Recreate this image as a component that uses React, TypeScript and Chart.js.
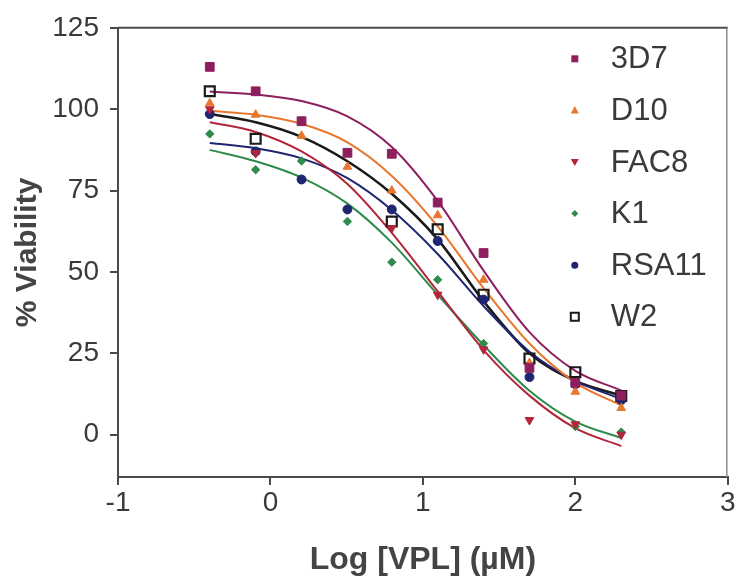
import React, { useEffect, useRef } from 'react';
import { Chart, registerables } from 'chart.js';

Chart.register(...registerables);

// log10 of concentration (µM)
const logConc = [-0.398, -0.097, 0.204, 0.505, 0.796, 1.097, 1.398, 1.699, 2.0, 2.301];

const strains = ['3D7', 'D10', 'FAC8', 'K1', 'RSA11', 'W2'];

// measured % viability
const v3D7 = [113, 105.5, 96.3, 86.6, 86.3, 71.3, 55.8, 20.5, 15.9, 12];
const vD10 = [101.8, 98.3, 91.8, 82.3, 75, 67.4, 47.6, 22, 13.2, 8.2];
const vFAC8 = [100, 86.5, null, null, 63.5, 43, 26.2, 4.5, 3.2, 0];
const vK1 = [92.4, 81.4, 84.1, 65.5, 53, 47.6, 28, null, 2.5, 0.8];
const vRSA11 = [98.5, 87, 78.4, 69.2, 69.2, 59.5, 41.5, 17.7, 15.5, 10.6];
const vW2 = [105.5, 90.9, null, null, 65.5, 63.1, 43, 23.4, 19.2, 11.9];

// fitted dose-response curves, read at the same concentrations
const fit3D7 = [105.4, 104.5, 102.5, 97.8, 88.4, 71.8, 50.4, 31.5, 19.6, 13.6];
const fitD10 = [99.5, 98.3, 95.5, 89.8, 79.5, 64, 45, 28, 16, 9];
const fitFAC8 = [96, 93, 87, 77, 62, 44, 26, 12, 2, -3.5];
const fitK1 = [87.5, 84, 79, 71, 59, 43, 27.5, 13.5, 4, -1];
const fitRSA11 = [89.6, 88, 84.9, 78.8, 69, 55.5, 39.5, 25.5, 16.5, 11];
const fitW2 = [98.5, 96, 91.5, 84, 74, 60, 41, 25, 16.5, 12];

const xTicks = [-1, 0, 1, 2, 3];
const yTicks = [0, 25, 50, 75, 100, 125];

const values = [v3D7, vD10, vFAC8, vK1, vRSA11, vW2];
const fits = [fit3D7, fitD10, fitFAC8, fitK1, fitRSA11, fitW2];

const colors = ['#8E1F5F', '#E8772E', '#B3263A', '#2F8A4C', '#1F2570', '#1a1a1a'];
const markers = ['square', 'triangle', 'triangleDown', 'diamond', 'circle', 'openSquare'];

const FONT = '"Liberation Sans", Arial, Helvetica, sans-serif';
const AXIS = '#4a4a4a';
const TEXT = '#3a3a3a';

function markerOpts(m: string) {
  switch (m) {
    case 'square': return { pointStyle: 'rect', radius: 6.2, rotation: 0, fill: true, bw: 1 };
    case 'triangle': return { pointStyle: 'triangle', radius: 5, rotation: 0, fill: true, bw: 1 };
    case 'triangleDown': return { pointStyle: 'triangle', radius: 5, rotation: 180, fill: true, bw: 1 };
    case 'diamond': return { pointStyle: 'rectRot', radius: 4.2, rotation: 0, fill: true, bw: 1 };
    case 'circle': return { pointStyle: 'circle', radius: 4.5, rotation: 0, fill: true, bw: 1 };
    default: return { pointStyle: 'rect', radius: 7, rotation: 0, fill: false, bw: 2.2 };
  }
}

function drawMarker(ctx: CanvasRenderingContext2D, m: string, x: number, y: number, color: string) {
  ctx.save();
  ctx.fillStyle = color;
  ctx.strokeStyle = color;
  ctx.beginPath();
  switch (m) {
    case 'square': ctx.rect(x - 3.5, y - 3.5, 7, 7); ctx.fill(); break;
    case 'triangle': ctx.moveTo(x, y - 4.5); ctx.lineTo(x + 4, y + 3); ctx.lineTo(x - 4, y + 3); ctx.closePath(); ctx.fill(); break;
    case 'triangleDown': ctx.moveTo(x, y + 4); ctx.lineTo(x + 4, y - 3); ctx.lineTo(x - 4, y - 3); ctx.closePath(); ctx.fill(); break;
    case 'diamond': ctx.moveTo(x, y - 3.5); ctx.lineTo(x + 3.5, y); ctx.lineTo(x, y + 3.5); ctx.lineTo(x - 3.5, y); ctx.closePath(); ctx.fill(); break;
    case 'circle': ctx.arc(x, y, 3.5, 0, Math.PI * 2); ctx.fill(); break;
    default: ctx.lineWidth = 2; ctx.rect(x - 4, y - 4, 8, 8); ctx.stroke(); break;
  }
  ctx.restore();
}

const frameAndLegend = {
  id: 'frameAndLegend',
  afterDraw(chart: any) {
    const { ctx, chartArea } = chart;
    // top and right frame lines
    ctx.save();
    ctx.strokeStyle = AXIS;
    ctx.lineWidth = 2;
    ctx.beginPath();
    ctx.moveTo(chartArea.left, chartArea.top);
    ctx.lineTo(chartArea.right, chartArea.top);
    ctx.stroke();
    ctx.strokeStyle = '#8a8a8a';
    ctx.lineWidth = 1.5;
    ctx.beginPath();
    ctx.moveTo(chartArea.right - 1, chartArea.top);
    ctx.lineTo(chartArea.right - 1, chartArea.bottom);
    ctx.stroke();
    ctx.restore();
    // legend inside plot
    const mx = chartArea.right - 153;
    const tx = mx + 36;
    const y0 = chartArea.top + 31;
    const step = 51.6;
    ctx.save();
    ctx.font = `31px ${FONT}`;
    ctx.textBaseline = 'middle';
    ctx.textAlign = 'left';
    strains.forEach((s, i) => {
      const y = y0 + i * step;
      drawMarker(ctx, markers[i], mx, y, colors[i]);
      ctx.fillStyle = TEXT;
      ctx.fillText(s, tx, y + 1);
    });
    ctx.restore();
  },
};

export default function App() {
  const ref = useRef<HTMLCanvasElement | null>(null);

  useEffect(() => {
    document.body.style.margin = '0';
    const canvas = ref.current;
    if (!canvas) return;

    const pointSets = strains.map((s, i) => {
      const mo = markerOpts(markers[i]);
      return {
        label: s,
        data: logConc.map((x, j) => ({ x, y: values[i][j] })),
        showLine: false,
        pointStyle: mo.pointStyle,
        pointRadius: mo.radius,
        pointRotation: mo.rotation,
        pointBackgroundColor: mo.fill ? colors[i] : 'rgba(0,0,0,0)',
        pointBorderColor: colors[i],
        pointBorderWidth: mo.bw,
        backgroundColor: colors[i],
        borderColor: colors[i],
      };
    });
    const lineSets = strains.map((s, i) => ({
      label: s + ' fit',
      data: logConc.map((x, j) => ({ x, y: fits[i][j] })),
      showLine: true,
      pointRadius: 0,
      borderColor: colors[i],
      borderWidth: i === 5 ? 2.6 : 2,
      cubicInterpolationMode: 'monotone',
      fill: false,
    }));

    const chart = new Chart(canvas, {
      type: 'scatter',
      data: { datasets: [...pointSets, ...lineSets] as any },
      options: {
        animation: false,
        responsive: false,
        devicePixelRatio: 1,
        layout: { padding: { left: 0, right: 0, top: 24, bottom: 0 } },
        plugins: { legend: { display: false }, tooltip: { enabled: false } },
        scales: {
          x: {
            type: 'linear',
            min: -1,
            max: 3,
            afterBuildTicks: (scale: any) => { scale.ticks = xTicks.map((v) => ({ value: v })); },
            afterFit: (scale: any) => { scale.height = 106; scale.paddingRight = 7; },
            ticks: {
              font: { family: FONT, size: 28 },
              color: TEXT,
              padding: 1,
              callback: (v: any) => String(v),
            },
            grid: { display: true, drawOnChartArea: false, drawTicks: true, tickLength: 8, color: AXIS, lineWidth: 2 },
            border: { display: true, color: AXIS, width: 2 },
            title: {
              display: true,
              text: 'Log [VPL] (µM)',
              font: { family: FONT, size: 32, weight: 'bold' },
              color: '#444',
              padding: { top: 0, bottom: 4 },
            },
          },
          y: {
            type: 'linear',
            min: -13,
            max: 125,
            afterBuildTicks: (scale: any) => { scale.ticks = yTicks.map((v) => ({ value: v })); },
            afterFit: (scale: any) => { scale.width = 118; },
            ticks: {
              font: { family: FONT, size: 28 },
              color: TEXT,
              padding: 11,
              callback: (v: any) => String(v),
            },
            grid: { display: true, drawOnChartArea: false, drawTicks: true, tickLength: 8, color: AXIS, lineWidth: 2 },
            border: { display: true, color: AXIS, width: 2 },
            title: {
              display: true,
              text: '% Viability',
              font: { family: FONT, size: 30, weight: 'bold' },
              color: '#444',
              padding: { top: 10, bottom: 0 },
            },
          },
        },
      } as any,
      plugins: [frameAndLegend],
    });
    return () => chart.destroy();
  }, []);

  return (
    <div style={{ width: 737, height: 583 }}>
      <canvas ref={ref} width={737} height={583} style={{ width: 737, height: 583, display: 'block' }} />
    </div>
  );
}
